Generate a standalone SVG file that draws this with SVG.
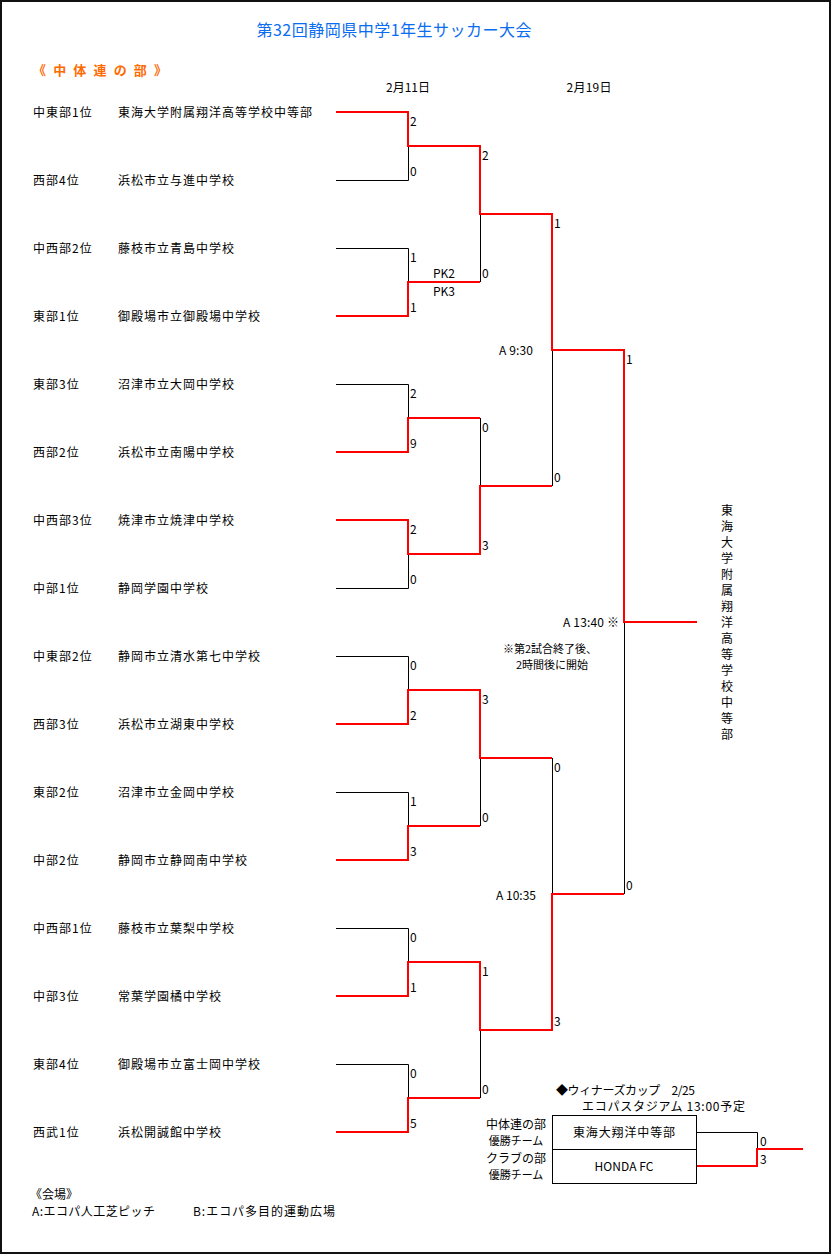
<svg xmlns="http://www.w3.org/2000/svg" width="832" height="1254" viewBox="0 0 832 1254">
<style>
text{font-family:"Noto Sans CJK JP","Noto Sans CJK SC",sans-serif;font-size:12px;fill:#000}
.n{letter-spacing:1px}
.sm{font-size:11px}
.b{fill:none;stroke:#000;stroke-width:1}
.r{fill:none;stroke:#f00;stroke-width:2}
.title{font-size:16px;fill:#0a6cf0}
.sub{font-size:13px;font-weight:bold;fill:#ff6a00}
</style>
<rect x="1" y="1" width="829" height="1252" fill="#fff" stroke="#111" stroke-width="2"/>
<g id="header">
<text class="title" x="394" y="36" text-anchor="middle" textLength="275">第32回静岡県中学1年生サッカー大会</text>
<text class="sub" x="33" y="75" textLength="134">《 中 体 連 の 部 》</text>
<text x="408" y="92" text-anchor="middle" textLength="44">2月11日</text>
<text x="589" y="92" text-anchor="middle" textLength="45">2月19日</text>
</g>
<g id="team-1"><text class="n" x="33" y="117">中東部1位</text><text class="n" x="118" y="117">東海大学附属翔洋高等学校中等部</text></g>
<g id="team-2"><text class="n" x="33" y="185">西部4位</text><text class="n" x="118" y="185">浜松市立与進中学校</text></g>
<g id="team-3"><text class="n" x="33" y="253">中西部2位</text><text class="n" x="118" y="253">藤枝市立青島中学校</text></g>
<g id="team-4"><text class="n" x="33" y="321">東部1位</text><text class="n" x="118" y="321">御殿場市立御殿場中学校</text></g>
<g id="team-5"><text class="n" x="33" y="389">東部3位</text><text class="n" x="118" y="389">沼津市立大岡中学校</text></g>
<g id="team-6"><text class="n" x="33" y="457">西部2位</text><text class="n" x="118" y="457">浜松市立南陽中学校</text></g>
<g id="team-7"><text class="n" x="33" y="525">中西部3位</text><text class="n" x="118" y="525">焼津市立焼津中学校</text></g>
<g id="team-8"><text class="n" x="33" y="593">中部1位</text><text class="n" x="118" y="593">静岡学園中学校</text></g>
<g id="team-9"><text class="n" x="33" y="661">中東部2位</text><text class="n" x="118" y="661">静岡市立清水第七中学校</text></g>
<g id="team-10"><text class="n" x="33" y="729">西部3位</text><text class="n" x="118" y="729">浜松市立湖東中学校</text></g>
<g id="team-11"><text class="n" x="33" y="797">東部2位</text><text class="n" x="118" y="797">沼津市立金岡中学校</text></g>
<g id="team-12"><text class="n" x="33" y="865">中部2位</text><text class="n" x="118" y="865">静岡市立静岡南中学校</text></g>
<g id="team-13"><text class="n" x="33" y="933">中西部1位</text><text class="n" x="118" y="933">藤枝市立葉梨中学校</text></g>
<g id="team-14"><text class="n" x="33" y="1001">中部3位</text><text class="n" x="118" y="1001">常葉学園橘中学校</text></g>
<g id="team-15"><text class="n" x="33" y="1069">東部4位</text><text class="n" x="118" y="1069">御殿場市立富士岡中学校</text></g>
<g id="team-16"><text class="n" x="33" y="1137">西武1位</text><text class="n" x="118" y="1137">浜松開誠館中学校</text></g>
<g id="connectors">
<path class="b" d="M336 180.5H408.5V146M336 248.5H408.5V282M336 384.5H408.5V418M336 588.5H408.5V554M336 656.5H408.5V690M336 792.5H408.5V826M336 928.5H408.5V962M336 1064.5H408.5V1098M480.5 282V214M480.5 418V486M480.5 826V758M480.5 1098V1030M552.5 486V350M552.5 758V894M624.5 894V622M696 1132.5H757.5V1149"/>
<path class="r" d="M336 112H408V146H480V214H552V350H624V622H697M336 316H408V282H480M336 452H408V418H480M336 520H408V554H480V486H552M336 724H408V690H480V758H552M336 860H408V826H480M336 996H408V962H480V1030H552V894H624M336 1132H408V1098H480M696 1166H757V1149H803"/>
</g>
<g id="scores">
<text x="410" y="126">2</text><text x="410" y="176">0</text>
<text x="410" y="262">1</text><text x="410" y="312">1</text>
<text x="410" y="398">2</text><text x="410" y="448">9</text>
<text x="410" y="534">2</text><text x="410" y="584">0</text>
<text x="410" y="670">0</text><text x="410" y="720">2</text>
<text x="410" y="806">1</text><text x="410" y="856">3</text>
<text x="410" y="942">0</text><text x="410" y="992">1</text>
<text x="410" y="1078">0</text><text x="410" y="1128">5</text>
<text x="482" y="160">2</text><text x="482" y="278">0</text>
<text x="482" y="432">0</text><text x="482" y="550">3</text>
<text x="482" y="704">3</text><text x="482" y="822">0</text>
<text x="482" y="976">1</text><text x="482" y="1094">0</text>
<text x="554" y="228">1</text><text x="554" y="482">0</text>
<text x="554" y="772">0</text><text x="554" y="1026">3</text>
<text x="626" y="364">1</text><text x="626" y="890">0</text>
<text x="444" y="278" text-anchor="middle" textLength="22">PK2</text>
<text x="444" y="296" text-anchor="middle" textLength="22">PK3</text>
</g>
<g id="times">
<text x="499" y="354.5" textLength="34">A 9:30</text>
<text x="563" y="627" textLength="56">A 13:40 ※</text>
<text class="sm" x="550" y="652.5" text-anchor="middle">※第2試合終了後、</text>
<text class="sm" x="552" y="668.5" text-anchor="middle">2時間後に開始</text>
<text x="496" y="899.5" textLength="40">A 10:35</text>
</g>
<g id="champion">
<text x="727" y="514.6" text-anchor="middle">東</text>
<text x="727" y="530.6" text-anchor="middle">海</text>
<text x="727" y="546.6" text-anchor="middle">大</text>
<text x="727" y="562.6" text-anchor="middle">学</text>
<text x="727" y="578.6" text-anchor="middle">附</text>
<text x="727" y="594.6" text-anchor="middle">属</text>
<text x="727" y="610.6" text-anchor="middle">翔</text>
<text x="727" y="626.6" text-anchor="middle">洋</text>
<text x="727" y="642.6" text-anchor="middle">高</text>
<text x="727" y="658.6" text-anchor="middle">等</text>
<text x="727" y="674.6" text-anchor="middle">学</text>
<text x="727" y="690.6" text-anchor="middle">校</text>
<text x="727" y="706.6" text-anchor="middle">中</text>
<text x="727" y="722.6" text-anchor="middle">等</text>
<text x="727" y="738.6" text-anchor="middle">部</text>
</g>
<g id="winners-cup">
<text x="556" y="1095" textLength="139">◆ウィナーズカップ　2/25</text>
<text x="582" y="1111" textLength="163">エコパスタジアム 13:00予定</text>
<text x="516" y="1129" text-anchor="middle">中体連の部</text>
<text class="sm" x="516" y="1144.5" text-anchor="middle">優勝チーム</text>
<text x="516" y="1163" text-anchor="middle">クラブの部</text>
<text class="sm" x="516" y="1179" text-anchor="middle">優勝チーム</text>
<rect x="552.5" y="1115.5" width="144" height="68" fill="none" stroke="#000" stroke-width="1"/>
<line x1="552.5" y1="1149.5" x2="696.5" y2="1149.5" stroke="#000" stroke-width="1"/>
<text x="624" y="1137" text-anchor="middle" textLength="102">東海大翔洋中等部</text>
<text x="624" y="1171" text-anchor="middle" textLength="59">HONDA FC</text>
<text x="760" y="1145.5">0</text>
<text x="760" y="1163.5">3</text>
</g>
<g id="venue">
<text x="30" y="1198.5">《会場》</text>
<text x="32" y="1216" textLength="123">A:エコパ人工芝ピッチ</text>
<text x="193" y="1216" textLength="142">B:エコパ多目的運動広場</text>
</g>
</svg>
